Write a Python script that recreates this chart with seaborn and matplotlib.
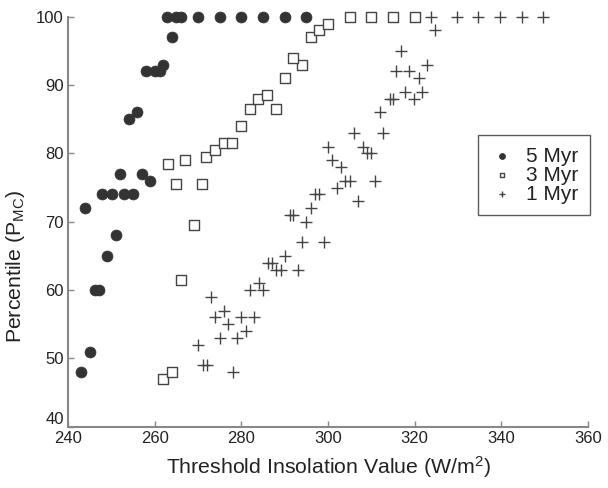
import matplotlib
matplotlib.use("Agg")
import matplotlib.pyplot as plt
import seaborn as sns
import pandas as pd

# 5 Myr (filled circles)
x5 = [243, 245, 244, 246.3, 247.1, 249, 251, 247.9, 250.1, 253, 255, 251.9, 257, 258.9,
      254, 256, 258, 260.1, 261.1, 262, 264.1, 262.8, 265, 266.1, 270, 275, 280, 285, 290, 295]
y5 = [48, 51, 72, 60, 60, 65, 68, 74, 74, 74, 74, 77, 77, 76,
      85, 86, 92, 92, 92, 93, 97, 100, 100, 100, 100, 100, 100, 100, 100, 100]

# 3 Myr (open squares)
x3 = [262, 264, 266, 269, 265, 271, 263, 267, 271.9, 274, 275.9, 277.9, 279.9, 281.9,
      288, 283.8, 285.9, 290, 294, 292, 296, 298, 300, 305, 310, 315, 320]
y3 = [47, 48, 61.5, 69.5, 75.5, 75.5, 78.5, 79, 79.5, 80.5, 81.5, 81.5, 84, 86.5,
      86.5, 88, 88.5, 91, 93, 94, 97, 98, 99, 100, 100, 100, 100]

# 1 Myr (plus)
x1 = [273, 276, 274, 277, 280, 283, 275, 279, 281, 270, 271.1, 272, 278,
      282, 284, 285.1, 288.1, 289.1, 293, 286.2, 287, 290, 294, 299, 295,
      291.2, 292, 296, 307, 297, 298, 302, 304, 305, 310.8, 303, 301, 309, 310,
      300, 308, 306, 312.8, 312, 314.2, 315, 319.8, 317.7, 321.8, 321, 315.8,
      318.8, 322.8, 316.8, 324.8, 323.8, 329.7, 334.7, 339.7, 344.8, 349.7]
y1 = [59, 57, 56, 55, 56, 56, 53, 53, 54, 52, 49, 49, 48,
      60, 61, 60, 63, 63, 63, 64, 64, 65, 67, 67, 70,
      71, 71, 72, 73, 74, 74, 75, 76, 76, 76, 78, 79, 80, 80,
      81, 81, 83, 83, 86, 88, 88, 88, 89, 89, 91, 92,
      92, 93, 95, 98, 100, 100, 100, 100, 100, 100]

labels = ["5 Myr", "3 Myr", "1 Myr"]
x_ticks = [240, 260, 280, 300, 320, 340, 360]
y_ticks = [40, 50, 60, 70, 80, 90, 100]

df5 = pd.DataFrame({"x": x5, "y": y5})
df3 = pd.DataFrame({"x": x3, "y": y3})
df1 = pd.DataFrame({"x": x1, "y": y1})

sns.set_style("ticks")
plt.rcParams["font.family"] = ["Liberation Sans", "DejaVu Sans"]
plt.rcParams["mathtext.fontset"] = "custom"
plt.rcParams["mathtext.rm"] = "Liberation Sans"
plt.rcParams["mathtext.it"] = "Liberation Sans:italic"

fig = plt.figure(figsize=(6.08, 4.88), dpi=100)
ax = fig.add_axes([0.112, 0.1256, 0.855, 0.84])

sns.scatterplot(data=df5, x="x", y="y", ax=ax, marker="o", s=62, color="#333333",
                edgecolor="#333333", linewidth=0.5, label=labels[0], clip_on=False, zorder=3)
sns.scatterplot(data=df3, x="x", y="y", ax=ax, marker="s", s=42, facecolor="white",
                edgecolor="#444444", linewidth=1.0, label=labels[1], clip_on=False, zorder=3)
sns.scatterplot(data=df1, x="x", y="y", ax=ax, marker="+", s=70, color="#444444",
                linewidth=1.0, label=labels[2], clip_on=False, zorder=3)

ax.set_xlim(240, 360)
ax.set_ylim(40, 100)
ax.set_xticks(x_ticks)
ax.set_yticks(y_ticks)
sns.despine(ax=ax)
for side in ["left", "bottom"]:
    ax.spines[side].set_color("#888888")
    ax.spines[side].set_linewidth(1.5)
ax.tick_params(direction="in", length=4, width=1, color="#888888",
               labelsize=12, labelcolor="#222222", pad=3)
ax.get_yticklabels()[0].set_verticalalignment("bottom")

ax.set_xlabel(r"Threshold Insolation Value (W/m$^{2}$)", fontsize=15.3, color="#222222", labelpad=6)
ax.set_ylabel(r"Percentile (P$_{\mathrm{MC}}$)", fontsize=15.3, color="#222222")
ax.yaxis.set_label_coords(-0.079, 0.392)

leg = ax.legend(loc="upper left", bbox_to_anchor=(0.788, 0.711), fontsize=15,
                markerscale=0.55, frameon=True, fancybox=False, handletextpad=0.56,
                labelspacing=0.0, borderpad=0.55, handlelength=1.2, borderaxespad=0)
leg.get_frame().set_edgecolor("#333333")
leg.get_frame().set_linewidth(1.0)
for t in leg.get_texts():
    t.set_color("#222222")

fig.savefig("out.png", dpi=100)
